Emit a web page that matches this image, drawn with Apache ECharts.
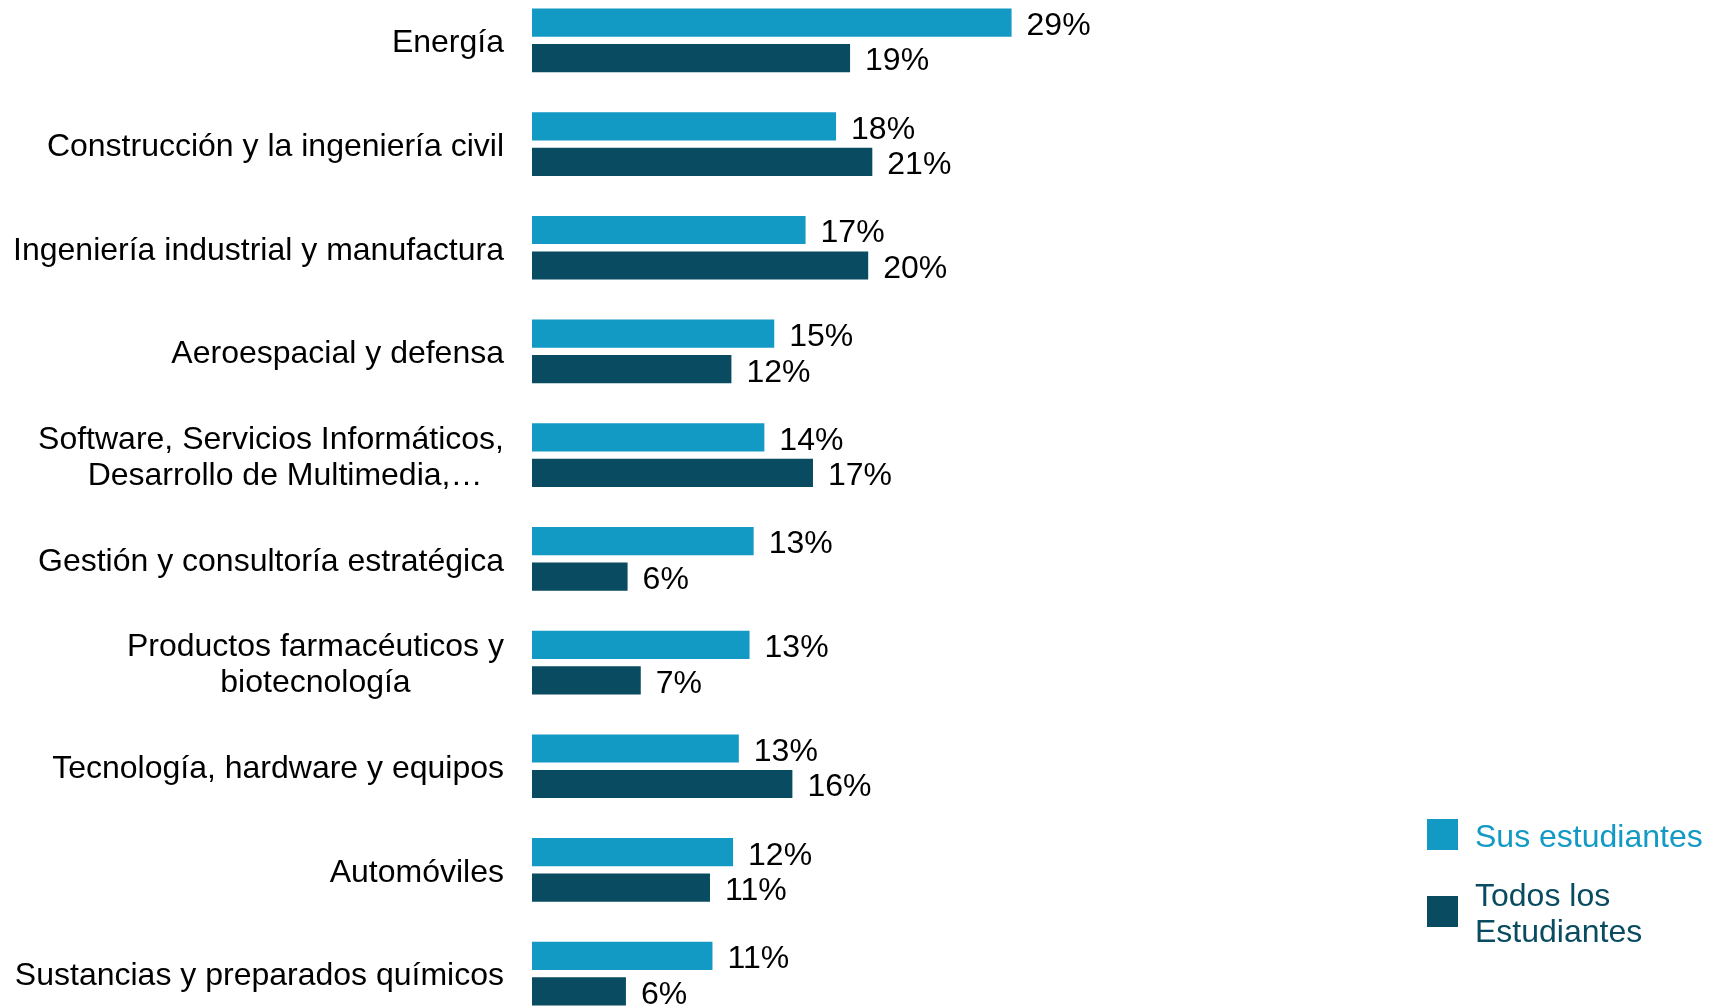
<!DOCTYPE html>
<html>
<head>
<meta charset="utf-8">
<script src="https://cdn.jsdelivr.net/npm/echarts@6/dist/echarts.min.js"></script>
<style>
html,body{margin:0;padding:0;background:#fff;}
#chart{width:1717px;height:1006px;}
</style>
</head>
<body>
<div id="chart"></div>
<script>
var categories = [
  "Energía",
  "Construcción y la ingeniería civil",
  "Ingeniería industrial y manufactura",
  "Aeroespacial y defensa",
  "Software, Servicios Informáticos,\nDesarrollo de Multimedia,…",
  "Gestión y consultoría estratégica",
  "Productos farmacéuticos y\nbiotecnología",
  "Tecnología, hardware y equipos",
  "Automóviles",
  "Sustancias y preparados químicos"
];
var seriesNames = ["Sus estudiantes", "Todos los\nEstudiantes"];
var susEstudiantes = [29.1, 18.45, 16.6, 14.7, 14.1, 13.45, 13.2, 12.55, 12.2, 10.95];
var todosEstudiantes = [19.3, 20.65, 20.4, 12.1, 17.05, 5.8, 6.6, 15.8, 10.8, 5.7];
var colors = ["#1299C4", "#094B60"];

var FONT = "'Liberation Sans', Arial, sans-serif";

var chart = echarts.init(document.getElementById('chart'));

function labelFmt(p) { return Math.round(p.value) + '%'; }

var option = {
  animation: false,
  backgroundColor: '#ffffff',
  grid: {
    left: 532,
    right: 361,
    top: -11.5,
    bottom: -19.5,
    containLabel: false,
    outerBoundsMode: 'none'
  },
  legend: {
    orient: 'vertical',
    left: 1427,
    top: 813,
    padding: 0,
    itemWidth: 31,
    itemHeight: 31,
    itemGap: 16,
    icon: 'rect',
    selectedMode: false,
    formatter: function (name) {
      var key = name === seriesNames[0] ? 's' : 'a';
      return name.split('\n').map(function (l) { return '{' + key + '|' + l + '}'; }).join('\n');
    },
    textStyle: {
      fontFamily: FONT,
      fontSize: 32,
      lineHeight: 36,
      padding: [7, 0, 0, 12],
      rich: {
        s: { fontFamily: FONT, fontSize: 32, lineHeight: 36, color: colors[0] },
        a: { fontFamily: FONT, fontSize: 32, lineHeight: 36, color: colors[1] }
      }
    },
    data: [
      { name: seriesNames[0], textStyle: { color: colors[0] } },
      { name: seriesNames[1], textStyle: { color: colors[1] } }
    ]
  },
  xAxis: {
    type: 'value',
    min: 0,
    max: 50,
    show: false,
    splitLine: { show: false }
  },
  yAxis: {
    type: 'category',
    inverse: true,
    data: categories,
    axisLine: { show: false },
    axisTick: { show: false },
    splitLine: { show: false },
    axisLabel: {
      margin: 28,
      interval: 0,
      padding: [6, 0, 0, 0],
      formatter: function (v) {
        return v.split('\n').map(function (l) {
          return (/…$/.test(l) ? '{d|' : '{c|') + l + '}';
        }).join('\n');
      },
      rich: {
        c: {
          fontFamily: FONT,
          fontSize: 32,
          lineHeight: 36,
          color: '#000000',
          align: 'center'
        },
        d: {
          fontFamily: FONT,
          fontSize: 32,
          lineHeight: 36,
          color: '#000000',
          align: 'center',
          padding: [0, 0, 0, 28]
        }
      }
    }
  },
  series: [
    {
      name: seriesNames[0],
      type: 'bar',
      data: susEstudiantes,
      barWidth: 28.2,
      barGap: '26%',
      itemStyle: { color: colors[0] },
      label: {
        show: true,
        position: 'right',
        distance: 15,
        offset: [0, 3.5],
        formatter: labelFmt,
        fontFamily: FONT,
        fontSize: 32,
        color: '#000000'
      }
    },
    {
      name: seriesNames[1],
      type: 'bar',
      data: todosEstudiantes,
      barWidth: 28.2,
      barGap: '26%',
      itemStyle: { color: colors[1] },
      label: {
        show: true,
        position: 'right',
        distance: 15,
        offset: [0, 3.5],
        formatter: labelFmt,
        fontFamily: FONT,
        fontSize: 32,
        color: '#000000'
      }
    }
  ]
};
chart.setOption(option);
</script>
</body>
</html>
